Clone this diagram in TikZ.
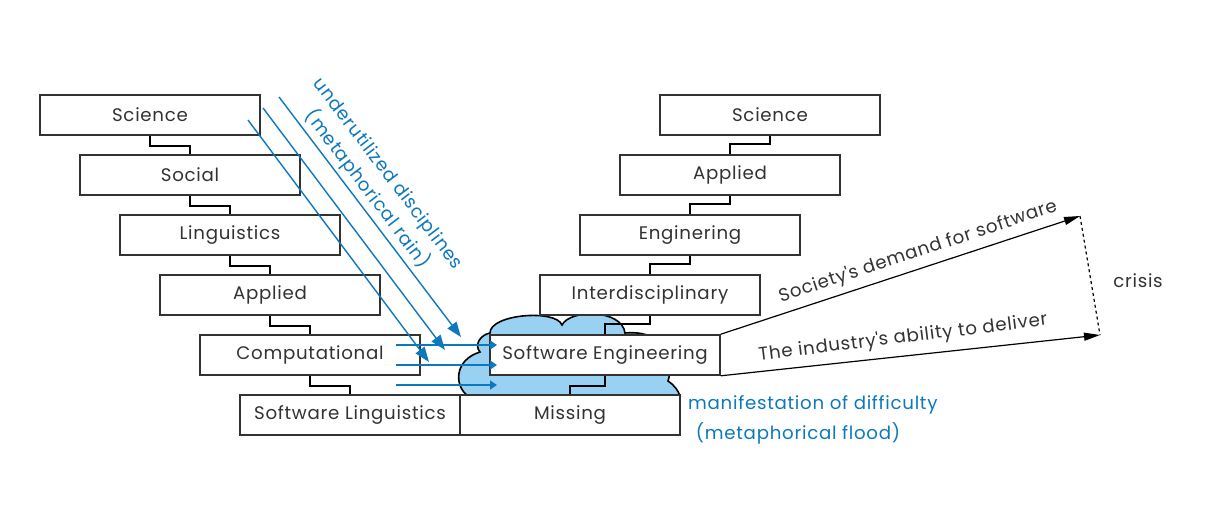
\documentclass[tikz,border=0pt]{standalone}
\usepackage{fontspec}
\setmainfont{Poppins}
\newfontfamily\lblfont[LetterSpace=4]{Poppins}
\usetikzlibrary{arrows.meta}
\definecolor{rainblue}{RGB}{12,120,190}
\definecolor{cloudfill}{RGB}{153,209,243}
\definecolor{boxline}{RGB}{50,50,50}
\tikzset{
  stepbox/.style={draw=boxline, line width=1.6pt, fill=white, minimum width=220pt, minimum height=40pt, inner sep=0pt, font=\lblfont\fontsize{18.2}{22}\selectfont, text=boxline},
  link/.style={draw=black, line width=1.6pt},
  rain/.style={draw=rainblue, line width=1.4pt, -{Triangle[length=15pt,width=11pt]}},
  flow/.style={draw=rainblue, line width=1.4pt, -{Triangle[length=7pt,width=9pt]}},
  trend/.style={draw=black, line width=1.2pt, -{Triangle[length=16pt,width=8pt]}},
  lbl/.style={font=\lblfont\fontsize{18.2}{26}\selectfont, text=boxline, inner sep=0pt},
  bluelbl/.style={font=\lblfont\fontsize{18.2}{26}\selectfont, text=rainblue, inner sep=0pt}
}
\begin{document}
\begin{tikzpicture}[x=1pt,y=-1pt]
\useasboundingbox (0,0) rectangle (1218,511);
% cloud
\path[draw=black, line width=1.6pt, fill=cloudfill]
  (468,396) .. controls (454,386) and (454,360) .. (480,352)
  .. controls (474,345) and (480,335) .. (490,333)
  .. controls (490,314) and (556,309) .. (562,325)
  .. controls (570,309) and (622,309) .. (625,333)
  .. controls (655,330) and (678,348) .. (668,381)
  .. controls (674,385) and (678,390) .. (680,396) -- cycle;
% left column
\node[stepbox] (ls) at (150,115) {Science};
\node[stepbox] (lso) at (190,175) {Social};
\node[stepbox] (lli) at (230,235) {Linguistics};
\node[stepbox] (lap) at (270,295) {Applied};
\node[stepbox] (lco) at (310,355) {Computational};
\node[stepbox] (lsl) at (350,415) {Software Linguistics};
% right column
\node[stepbox] (rs) at (770,115) {Science};
\node[stepbox] (rap) at (730,175) {Applied};
\node[stepbox] (ren) at (690,235) {Enginering};
\node[stepbox] (rin) at (650,295) {Interdisciplinary};
\node[stepbox, minimum width=230pt] (rse) at (605,355) {Software Engineering};
\node[stepbox] (rmi) at (570,415) {Missing};
% step connectors
\draw[link] (ls.south) -- ++(0,10) -| (lso.north);
\draw[link] (lso.south) -- ++(0,10) -| (lli.north);
\draw[link] (lli.south) -- ++(0,10) -| (lap.north);
\draw[link] (lap.south) -- ++(0,10) -| (lco.north);
\draw[link] (lco.south) -- ++(0,10) -| (lsl.north);
\draw[link] (rap.north) -- ++(0,-10) -| (rs.south);
\draw[link] (ren.north) -- ++(0,-10) -| (rap.south);
\draw[link] (rin.north) -- ++(0,-10) -| (ren.south);
\draw[link] (rse.north) -- ++(0,-10) -| (rin.south);
\draw[link] (rse.south) -- ++(0,10) -| (rmi.north);
% rain
\coordinate (r1a) at (248,120); \coordinate (r1b) at (429,362);
\coordinate (r2a) at (263,108); \coordinate (r2b) at (445,350);
\coordinate (r3a) at (279,97);  \coordinate (r3b) at (461,337);
\draw[rain] (r1a) -- (r1b);
\draw[rain] (r2a) -- (r2b);
\draw[rain] (r3a) -- (r3b);
\node[bluelbl, rotate=-52.8, align=center] (rainlbl) at (377,182) {underutilized disciplines\\(metaphorical rain)};
% flood
\coordinate (f1a) at (396,345); \coordinate (f1b) at (497,345);
\coordinate (f2a) at (396,365); \coordinate (f2b) at (497,365);
\coordinate (f3a) at (396,385); \coordinate (f3b) at (497,385);
\draw[flow] (f1a) -- (f1b);
\draw[flow] (f2a) -- (f2b);
\draw[flow] (f3a) -- (f3b);
\node[bluelbl, anchor=west] (fl1) at (688,405) {manifestation of difficulty};
\node[bluelbl] (fl2) at (798,433) {(metaphorical flood)};
% crisis
\coordinate (d1) at (1080,216);
\coordinate (d2) at (1100,335);
\draw[trend] (rse.north east) -- (d1);
\draw[trend] (rse.south east) -- (d2);
\draw[black, line width=1.2pt, dashed] (d1) -- (d2);
\node[lbl, rotate=18.3] (dem) at (918,252) {Society\textquotesingle s demand for software};
\node[lbl, rotate=7] (abl) at (903,338) {The industry\textquotesingle s ability to deliver};
\node[lbl] (cri) at (1138,281) {crisis};
\end{tikzpicture}
\end{document}
